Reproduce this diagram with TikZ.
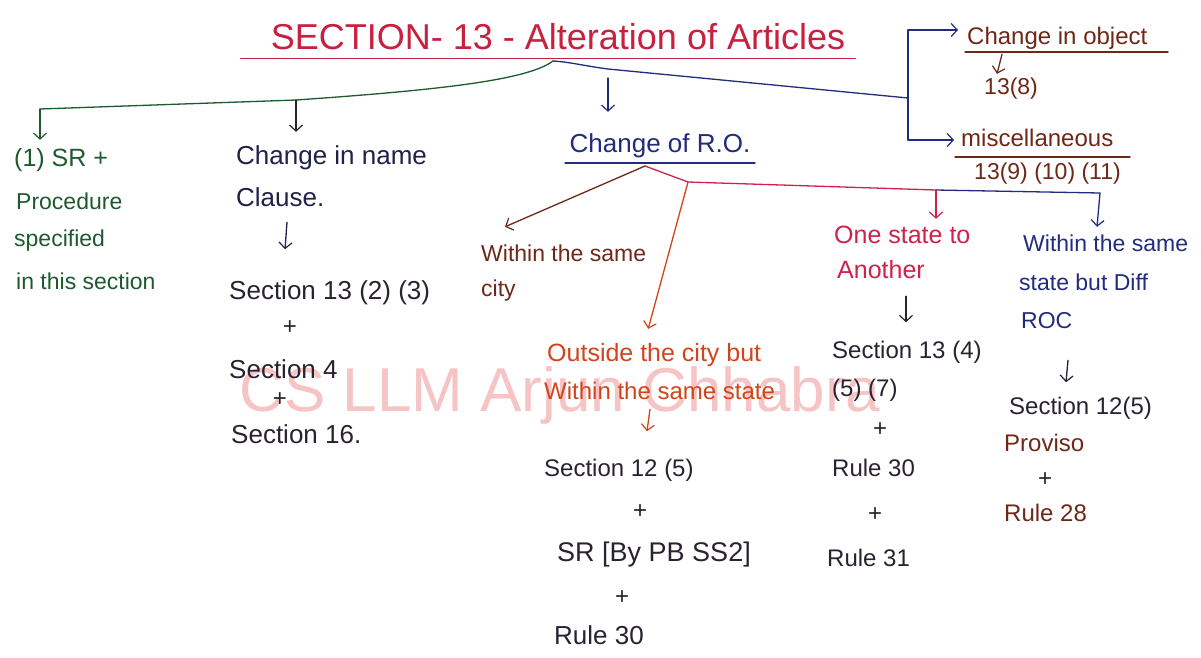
\documentclass[tikz,border=0pt]{standalone}
\usepackage{fontspec}
\setmainfont{Liberation Sans}
\usetikzlibrary{arrows.meta,calc}
\definecolor{ttl}{HTML}{C8203F}
\definecolor{grn}{HTML}{1E5A2E}
\definecolor{nav}{HTML}{222C7C}
\definecolor{dnav}{HTML}{1E2248}
\definecolor{drk}{HTML}{2A2230}
\definecolor{brn}{HTML}{6E2818}
\definecolor{org}{HTML}{D2441C}
\definecolor{crm}{HTML}{D0204C}
\definecolor{wmk}{HTML}{F6C4C4}
\begin{document}
\begin{tikzpicture}[x=1pt,y=-1pt,
  txt/.style={font=\fontsize{24}{27}\selectfont, inner sep=1pt, text height=17pt, text depth=5pt, anchor=west},
  sml/.style={txt, font=\fontsize{23}{26}\selectfont},
  big/.style={txt, font=\fontsize{26}{29}\selectfont},
  plus/.style={txt, anchor=center},
  ln/.style={line width=1.3pt, line cap=round, line join=round},
  arr/.style={ln, -{Straight Barb[length=6pt,width=13pt,line width=1.2pt]}},
  wm/.style={font=\fontsize{62}{70}\selectfont, text=wmk, inner sep=0pt}
]
\useasboundingbox (0,0) rectangle (1201,657);
\fill[white] (0,0) rectangle (1201,657);

% watermark
\node[wm] (wm) at (560,395) {CS LLM Arjun Chhabra};

% title
\node[font=\fontsize{36}{40}\selectfont, text=ttl, inner sep=0pt] (title) at (558,37) {SECTION- 13 - Alteration of Articles};
\draw[line width=1.6pt, line cap=round, ttl] ($(title.south west)+(-30,8)$) -- ($(title.south east)+(10,8)$);
\coordinate (j0) at (553,61);

% left column (green)
\node[sml, text=grn, font=\fontsize{25}{28}\selectfont] (sr1) at (13,160) {(1) SR +};
\node[sml, text=grn] (sr2) at (15,203) {Procedure};
\node[sml, text=grn] (sr3) at (13,240) {specified};
\node[sml, text=grn] (sr4) at (15,283) {in this section};

% change in name clause
\node[big, text=dnav] (cn1) at (235,158) {Change in name};
\node[big, text=dnav] (cn2) at (235,200) {Clause.};
\node[big, text=drk] (s1) at (228,293) {Section 13 (2) (3)};
\node[plus, text=drk] (p1) at (290,328) {+};
\node[big, text=drk] (s2) at (228,372) {Section 4};
\node[plus, text=drk] (p2) at (280,400) {+};
\node[big, text=drk] (s3) at (230,437) {Section 16.};

% change of R.O.
\node[big, text=nav, anchor=center] (ro) at (660,146) {Change of R.O.};
\draw[ln, nav] (565,163) -- (755,163);

\node[sml, text=brn] (wc1) at (480,255) {Within the same};
\node[sml, text=brn] (wc2) at (480,290) {city};

\node[big, text=org, font=\fontsize{25}{28}\selectfont] (oc1) at (546,355) {Outside the city but};
\node[big, text=org, font=\fontsize{24}{27}\selectfont] (oc2) at (543,393) {Within the same state};
\node[txt, text=drk] (o1) at (543,470) {Section 12 (5)};
\node[plus, text=drk] (op1) at (640,512) {+};
\node[big, text=drk, font=\fontsize{27}{30}\selectfont] (o2) at (556,555) {SR [By PB SS2]};
\node[plus, text=drk] (op2) at (622,598) {+};
\node[big, text=drk] (o3) at (553,638) {Rule 30};

\node[sml, text=crm, font=\fontsize{25}{28}\selectfont] (os1) at (833,237) {One state to};
\node[sml, text=crm, font=\fontsize{25}{28}\selectfont] (os2) at (836,272) {Another};
\node[txt, text=drk] (q1) at (831,352) {Section 13 (4)};
\node[txt, text=drk] (q2) at (831,390) {(5) (7)};
\node[plus, text=drk] (qp1) at (880,430) {+};
\node[txt, text=drk] (q3) at (831,470) {Rule 30};
\node[plus, text=drk] (qp2) at (875,515) {+};
\node[txt, text=drk] (q4) at (826,560) {Rule 31};

\node[sml, text=nav] (ws1) at (1022,245) {Within the same};
\node[sml, text=nav] (ws2) at (1018,284) {state but Diff};
\node[sml, text=nav] (ws3) at (1020,322) {ROC};
\node[txt, text=drk] (r1) at (1008,408) {Section 12(5)};
\node[txt, text=brn] (r2) at (1003,445) {Proviso};
\node[plus, text=drk] (rp1) at (1045,480) {+};
\node[txt, text=brn] (r3) at (1003,515) {Rule 28};

% top right
\node[sml, text=brn, font=\fontsize{24}{27}\selectfont] (co) at (966,38) {Change in object};
\draw[ln, brn] (965,52) -- (1168,52);
\node[sml, text=brn] (c8) at (983,88) {13(8)};
\node[sml, text=brn, font=\fontsize{24}{27}\selectfont] (mi) at (960,140) {miscellaneous};
\draw[ln, brn] (955,157) -- (1130,157);
\node[sml, text=brn] (mn) at (973,173) {13(9) (10) (11)};

% green branch
\coordinate (gM) at (296,100);
\coordinate (gL) at (40,109);
\draw[ln, grn] (j0) .. controls (528,80) and (440,90) .. (gM) -- (gL);
\draw[arr, grn] (gL) -- ($(gL |- sr1.north)+(0,-8)$);
\draw[arr, drk] (gM) -- ($(gM |- cn1.north)+(0,-14)$);

% blue branch
\coordinate (bA) at (608,69);
\coordinate (bV) at (908,98);
\coordinate (bT) at (908,30);
\coordinate (bB) at (908,140);
\draw[ln, nav] (j0) .. controls (570,62) and (585,66) .. (bA) -- (bV);
\draw[ln, nav] (bT) -- (bB);
\draw[arr, nav] (bT) -- ($(co.west |- bT)+(-8,0)$);
\draw[arr, nav] (bB) -- ($(mi.west |- bB)+(-6,0)$);
\draw[arr, nav, shorten <=9pt] (bA) -- ($(bA |- ro.north)+(0,-22)$);
\draw[arr, brn] ($(co.south west)+(36,4)$) -- ($(c8.north west)+(14,-2)$);

% change of R.O. subtree
\coordinate (k0) at (645,166);
\coordinate (k1) at (688,182);
\coordinate (k2) at (936,190);
\coordinate (k3) at (1100,193);
\draw[arr, brn] (k0) -- ($(wc1.north west)+(25,-16)$);
\draw[ln, crm] (k0) -- (k1) -- (k2);
\draw[ln, nav] (k2) -- (k3);
\draw[arr, org] (k1) -- ($(oc1.north)+(-6,-14)$);
\draw[arr, crm] (k2) -- ($(k2 |- os1.north)+(0,-6)$);
\draw[arr, nav] (k3) -- ($(k3 |- ws1.north)+(-3,-6)$);

% down arrows in columns
\draw[arr, dnav] ($(cn2.south west)+(52,10)$) -- ($(cn2.south west)+(50,37)$);
\draw[arr, org] ($(oc2.south west)+(107,4)$) -- ($(oc2.south west)+(104,26)$);
\draw[arr, drk] ($(os2.south west)+(70,12)$) -- ($(os2.south west)+(70,38)$);
\draw[arr, drk] ($(ws3.south west)+(48,26)$) -- ($(ws3.south west)+(46,48)$);
\end{tikzpicture}
\end{document}
